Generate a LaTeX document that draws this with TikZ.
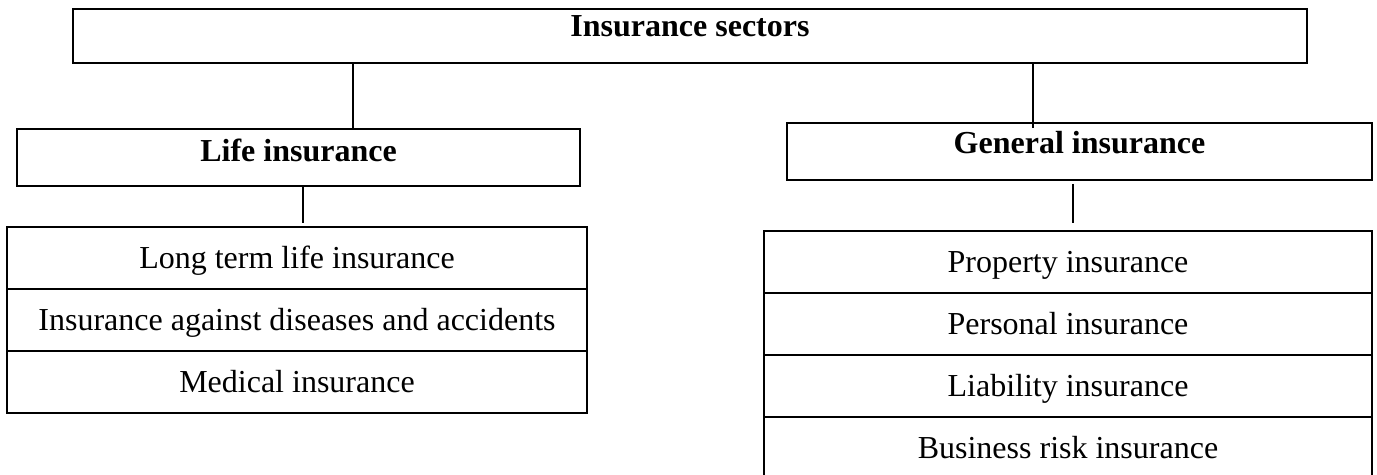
\documentclass[tikz,border=0pt]{standalone}
\usepackage{fontspec}
\setmainfont{Liberation Serif}

\begin{document}
\begin{tikzpicture}[x=0.5pt,y=-0.5pt,
        box/.style={draw,line width=1pt,inner sep=0pt,outer sep=0pt,text height=10.6pt,text depth=0pt,font=\fontsize{16}{19}\selectfont},
        head/.style={box,font=\fontsize{16}{19}\selectfont\bfseries},
        link/.style={line width=0.6pt}]
        \clip (0,0) rectangle (1377,475);
        % headings
        \node[head,minimum width=617pt,minimum height=27pt,text depth=10pt] (sectors) at (690,36) {Insurance sectors};
        \node[head,minimum width=281.5pt,minimum height=28.5pt,text depth=6.5pt] (life) at (298.5,157.5) {Life insurance};
        \node[head,minimum width=292.5pt,minimum height=28.5pt,text depth=9pt] (general) at (1079.5,151.5) {General insurance};
        % life insurance types
        \node[box,minimum width=290pt,minimum height=31pt] (life1) at (297,258) {Long term life insurance};
        \node[box,minimum width=290pt,minimum height=31pt] (life2) at (297,320) {Insurance against diseases and accidents};
        \node[box,minimum width=290pt,minimum height=31pt] (life3) at (297,382) {Medical insurance};
        % general insurance types
        \node[box,minimum width=304pt,minimum height=31pt] (gen1) at (1068,262) {Property insurance};
        \node[box,minimum width=304pt,minimum height=31pt] (gen2) at (1068,324) {Personal insurance};
        \node[box,minimum width=304pt,minimum height=31pt] (gen3) at (1068,386) {Liability insurance};
        \node[box,minimum width=304pt,minimum height=31pt] (gen4) at (1068,448) {Business risk insurance};
        % connectors
        \coordinate (j1) at (353,0);
        \coordinate (j2) at (1033,0);
        \coordinate (j3) at (303,0);
        \coordinate (j4) at (1073,0);
        \draw[link] (sectors.south -| j1) -- (life.north -| j1);
        \draw[link,shorten >=-2.5pt] (sectors.south -| j2) -- (general.north -| j2);
        \draw[link,shorten >=2pt] (life.south -| j3) -- (life1.north -| j3);
        \draw[link,shorten <=2pt,shorten >=4pt] (general.south -| j4) -- (gen1.north -| j4);
    \end{tikzpicture}
\end{document}
